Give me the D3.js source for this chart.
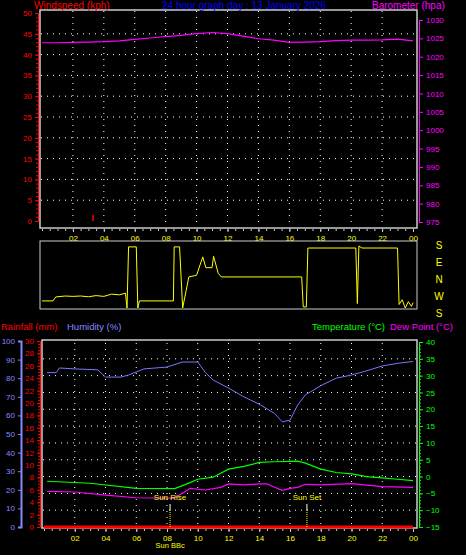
<!DOCTYPE html>
<html><head><meta charset="utf-8">
<script src="https://cdn.jsdelivr.net/npm/d3@7"></script>
<style>body{margin:0;background:#000}svg{display:block;font-family:"Liberation Sans",sans-serif}</style>
</head><body><svg id="c" width="466" height="555"></svg>
<script>
const hourTicks=[2,4,6,8,10,12,14,16,18,20,22,24];
const hourLabels=["02","04","06","08","10","12","14","16","18","20","22","00"];
const baroHours=[0,1,2,3,4,5,6,7,8,9,9.5,10,11,12,13,14,15,16,17,18,19,20,21,22,23,24];
const baroVals=[1023.8,1023.8,1023.9,1024.0,1024.1,1024.3,1024.7,1025.1,1025.5,1025.8,1026.1,1026.3,1026.6,1026.3,1025.6,1024.9,1024.5,1023.9,1024.0,1024.1,1024.4,1024.5,1024.5,1024.6,1024.8,1024.3];
const windHours=[3.3];
const windVals=[1.5];
const dirHours=[0,0.7,0.9,1.5,2,2.5,3,3.5,4,4.5,5,5.4,5.5,5.6,6.1,6.2,6.3,8.5,8.55,8.9,9.1,9.5,10,10.4,10.6,11,11.1,11.4,11.6,16.8,16.9,17.1,17.2,20.3,20.4,20.5,20.7,23,23.1,23.3,23.5,23.7,23.9,24];
const dirVals=[244,244,265,270,268,270,266,272,268,280,276,285,201,170,170,201,244,244,170,170,205,11,20,117,60,60,120,30,11,11,212,212,164,164,230,175,164,164,225,250,205,240,215,235];
const sunRise=8.2, sunSet=17.1;
const humHours=[0.2,0.8,1,2,3.5,4,5,5.5,6.5,8,9,10,10.5,11,12,13,14,15,15.5,16,16.5,17,18,19,20,21,22,23,24];
const humVals=[83,83,85.5,85,84.5,80.6,80.6,81.7,85,86,88.7,88.7,83,79,74.7,70,66,61,56.5,57.5,65.6,71,76,80,81.7,84,86.6,88,89];
const tHours=[0.2,3,6,8.5,9.5,10,11,12,13,14,15,16.5,17,18,19,20,21,22,23,24];
const tVals=[-1.4,-2,-3.5,-3.6,-1.8,-0.8,-0.2,2.2,3,4.2,4.4,4.6,4,2.2,1.2,0.8,0,-0.4,-0.8,-1.2];
const dHours=[0.2,2,4,6,8.5,9,9.5,10.5,11.5,12,13,14,14.5,15,15.5,16,16.5,17,18,20,22,24];
const dVals=[-4.4,-4.6,-5.5,-6.3,-6.4,-5,-3.5,-4,-3.2,-2.2,-2.5,-2.2,-2.2,-3.2,-4.1,-3.5,-3.2,-2.3,-2.5,-2.1,-3,-3.2];
const rainHours=[0,24], rainVals=[0,0];

const svg=d3.select("#c");
const grid="#fff";
function txt(x,y,s,c,size,anchor){svg.append("text").attr("x",x).attr("y",y).attr("fill",c).attr("font-size",size).attr("text-anchor",anchor||"start").text(s);}
function dottedGrid(x,y,xt,yt,y0,y1,x0,x1){
  xt.forEach(t=>svg.append("line").attr("x1",x(t)).attr("x2",x(t)).attr("y1",y0).attr("y2",y1).attr("stroke",grid).attr("stroke-dasharray","1,5"));
  yt.forEach(t=>svg.append("line").attr("x1",x0).attr("x2",x1).attr("y1",y(t)).attr("y2",y(t)).attr("stroke",grid).attr("stroke-dasharray","1,5"));
}
const xT=d3.scaleLinear().domain([0,24]).range([42,413]);
const yW=d3.scaleLinear().domain([0,50]).range([221,13]);
const yB=d3.scaleLinear().domain([975,1030]).range([222,20]);
dottedGrid(xT,yW,hourTicks.slice(0,11),[5,10,15,20,25,30,35,40,45],11,227,41,416);
svg.append("rect").attr("x",40).attr("y",10).attr("width",377).attr("height",218).attr("fill","none").attr("stroke","#ccc").attr("stroke-width",1.5);
svg.append("g").attr("transform","translate(38,0)").call(d3.axisLeft(yW).tickValues(d3.range(0,51,5)).tickSize(3).tickFormat(d3.format("d")))
  .call(g=>{g.select(".domain").attr("stroke","red");g.selectAll("line").attr("stroke","red");g.selectAll("text").attr("fill","red").attr("font-size",8);});
svg.append("g").attr("transform","translate(38,0)").call(d3.axisLeft(yW).tickValues(d3.range(0,51,1)).tickSize(2).tickFormat(""))
  .call(g=>{g.select(".domain").remove();g.selectAll("line").attr("stroke","red");});
svg.append("g").attr("transform","translate(419,0)").call(d3.axisRight(yB).tickValues(d3.range(975,1031,5)).tickSize(4).tickFormat(d3.format("d")))
  .call(g=>{g.select(".domain").attr("stroke","#f0f");g.selectAll("line").attr("stroke","#f0f");g.selectAll("text").attr("fill","#f0f").attr("font-size",8);});
svg.append("g").attr("transform","translate(0,229)").call(d3.axisBottom(xT).tickValues(hourTicks).tickSize(3).tickFormat((d,i)=>hourLabels[i]))
  .call(g=>{g.select(".domain").remove();g.selectAll("line").attr("stroke","#ccc");g.selectAll("text").attr("fill","#ff0").attr("font-size",8);});
svg.append("g").attr("transform","translate(0,229)").call(d3.axisBottom(xT).ticks(48).tickSize(2).tickFormat(""))
  .call(g=>{g.select(".domain").remove();g.selectAll("line").attr("stroke","#ccc");});
svg.append("path").datum(baroHours.map((h,i)=>[h,baroVals[i]])).attr("fill","none").attr("stroke","#f0f").attr("stroke-width",1.2)
  .attr("d",d3.line().x(d=>xT(d[0])).y(d=>yB(d[1])));
windHours.forEach((h,i)=>svg.append("line").attr("x1",xT(h)).attr("x2",xT(h)).attr("y1",yW(0)).attr("y2",yW(windVals[i])).attr("stroke","red").attr("stroke-width",1.5));
txt(34,9,"Windspeed (kph)","red",10);
txt(244,9,"24 hour graph day : 13 January 2026","#00f",10,"middle");
txt(372,9,"Barometer (hpa)","#f0f",10);
const yD=d3.scaleLinear().domain([0,360]).range([245,313]);
svg.append("rect").attr("x",40).attr("y",241).attr("width",377).attr("height",68).attr("fill","none").attr("stroke","#ccc").attr("stroke-width",1);
svg.append("path").datum(dirHours.map((h,i)=>[h,(180-dirVals[i]+360)%360])).attr("fill","none").attr("stroke","#ff0").attr("stroke-width",1)
  .attr("d",d3.line().x(d=>xT(d[0])).y(d=>Math.min(308,Math.max(243,yD(d[1])))));
["S","E","N","W","S"].forEach((s,i)=>txt(439,yD(i*90)+4,s,"#ff0",10,"middle"));
const xB=d3.scaleLinear().domain([0,24]).range([44,413]);
const yH=d3.scaleLinear().domain([0,100]).range([527,341]);
const yR=d3.scaleLinear().domain([0,30]).range([527,341]);
const yTm=d3.scaleLinear().domain([-15,40]).range([527,342]);
dottedGrid(xB,yTm,hourTicks.slice(0,11),[-10,-5,0,5,10,15,20,25,30,35],343,526,43,416);
svg.append("rect").attr("x",42).attr("y",340).attr("width",375).attr("height",188).attr("fill","none").attr("stroke","#ccc").attr("stroke-width",1.5);
svg.append("g").attr("transform","translate(21,0)").call(d3.axisLeft(yH).tickValues(d3.range(0,101,10)).tickSize(3).tickFormat(d3.format("d")))
  .call(g=>{g.select(".domain").attr("stroke","#88f").attr("stroke-width",2);g.selectAll("line").attr("stroke","#88f");g.selectAll("text").attr("fill","#88f").attr("font-size",8);});
svg.append("g").attr("transform","translate(40,0)").call(d3.axisLeft(yR).tickValues(d3.range(0,31,2)).tickSize(3).tickFormat(d3.format("d")))
  .call(g=>{g.select(".domain").attr("stroke","red");g.selectAll("line").attr("stroke","red");g.selectAll("text").attr("fill","red").attr("font-size",8);});
svg.append("g").attr("transform","translate(40,0)").call(d3.axisLeft(yR).tickValues(d3.range(0,30.1,0.5)).tickSize(2).tickFormat(""))
  .call(g=>{g.select(".domain").remove();g.selectAll("line").attr("stroke","red");});
svg.append("g").attr("transform","translate(419,0)").call(d3.axisRight(yTm).tickValues(d3.range(-15,41,5)).tickSize(4).tickFormat(d3.format("d")))
  .call(g=>{g.select(".domain").attr("stroke","#0f0");g.selectAll("line").attr("stroke","#0f0");g.selectAll("text").attr("fill","#0f0").attr("font-size",8);});
svg.append("g").attr("transform","translate(419,0)").call(d3.axisRight(yTm).tickValues(d3.range(-15,40,1)).tickSize(2).tickFormat(""))
  .call(g=>{g.select(".domain").remove();g.selectAll("line").attr("stroke","#0f0");});
svg.append("g").attr("transform","translate(0,529)").call(d3.axisBottom(xB).tickValues(hourTicks).tickSize(3).tickFormat((d,i)=>hourLabels[i]))
  .call(g=>{g.select(".domain").remove();g.selectAll("line").attr("stroke","#ccc");g.selectAll("text").attr("fill","#ff0").attr("font-size",8);});
svg.append("g").attr("transform","translate(0,529)").call(d3.axisBottom(xB).ticks(48).tickSize(2).tickFormat(""))
  .call(g=>{g.select(".domain").remove();g.selectAll("line").attr("stroke","#ccc");});
const ln=(hs,vs,y,c,w)=>svg.append("path").datum(hs.map((h,i)=>[h,vs[i]])).attr("fill","none").attr("stroke",c).attr("stroke-width",w||1)
  .attr("d",d3.line().x(d=>xB(d[0])).y(d=>y(d[1])));
ln(humHours,humVals,yH,"#77f");
ln(tHours,tVals,yTm,"#0f0",1.2);
ln(dHours,dVals,yTm,"#f0f",1.2);
ln(rainHours,rainVals,yR,"red",3);
[[sunRise,"Sun Rise"],[sunSet,"Sun Set"]].forEach(([h,s])=>{
  svg.append("line").attr("x1",xB(h)).attr("x2",xB(h)).attr("y1",504).attr("y2",510).attr("stroke","#fff");
  svg.append("line").attr("x1",xB(h)).attr("x2",xB(h)).attr("y1",510).attr("y2",527).attr("stroke","#ff0").attr("stroke-dasharray","1,1");
  txt(xB(h),500,s,"#ff0",8,"middle");
});
txt(xB(sunRise),548,"Sun BBc","#ff0",7.5,"middle");
txt(1,330,"Rainfall (mm)","red",9.5);
txt(67,330,"Humidity (%)","#88f",9.5);
txt(312,330,"Temperature (°C)","#0f0",9.5);
txt(390,330,"Dew Point (°C)","#f0f",9.5);
</script></body></html>
